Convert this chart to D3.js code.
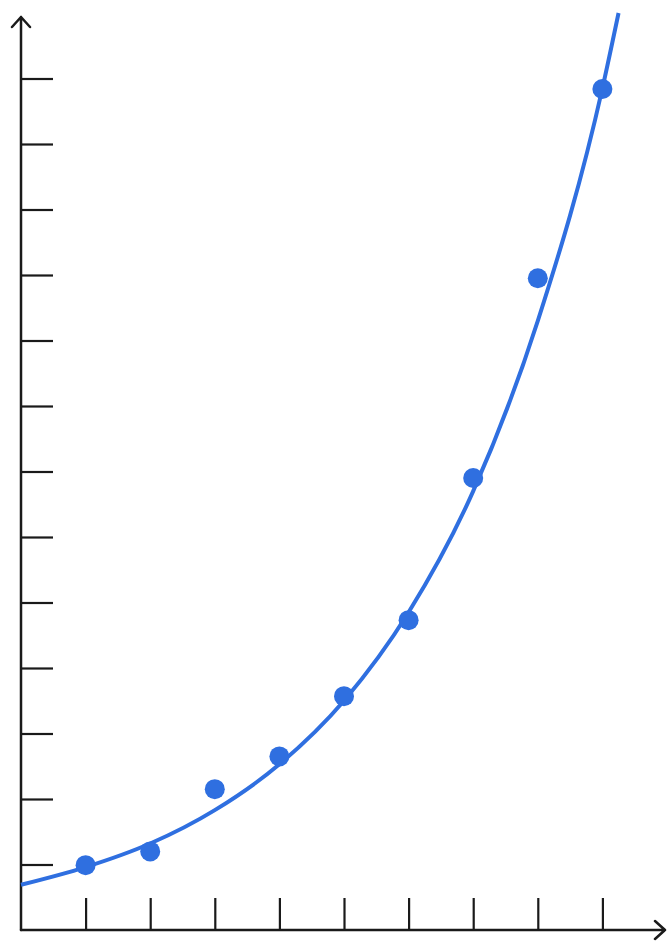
<!DOCTYPE html>
<html>
<head>
<meta charset="utf-8">
<script src="https://cdn.jsdelivr.net/npm/d3@7"></script>
<style>
  html, body { margin: 0; padding: 0; background: #fff; }
  svg { display: block; }
</style>
</head>
<body>
<svg id="chart" width="668" height="941"></svg>
<script>
// observed points
var xs = [1, 2, 3, 4, 5, 6, 7, 8, 9];
var ys = [0.99, 1.2, 2.15, 2.65, 3.57, 4.73, 6.9, 9.95, 12.84];

var curveX = [0, 1, 2, 3, 4, 5, 6, 7, 8, 9, 9.25];
var curveY = [0.69, 0.96, 1.32, 1.83, 2.53, 3.5, 4.85, 6.7, 9.3, 12.85, 14.0];

var xTicks = [1, 2, 3, 4, 5, 6, 7, 8, 9];
var yTicks = [1, 2, 3, 4, 5, 6, 7, 8, 9, 10, 11, 12, 13];

var blue = "#2f6fe0";
var ink = "#1a1a1a";

var svg = d3.select("#chart");

var x = d3.scaleLinear().domain([0, 10]).range([21, 667]);
var y = d3.scaleLinear().domain([0, 14]).range([930, 13]);

// ticks
svg.append("g")
  .attr("transform", "translate(0," + y(0) + ")")
  .call(d3.axisBottom(x).tickValues(xTicks).tickSize(-32).tickSizeOuter(0).tickFormat(""))
  .call(function(g){ g.select(".domain").remove(); })
  .selectAll("line").attr("stroke", ink).attr("stroke-width", 2.2);

svg.append("g")
  .attr("transform", "translate(" + x(0) + ",0)")
  .call(d3.axisLeft(y).tickValues(yTicks).tickSize(-32).tickSizeOuter(0).tickFormat(""))
  .call(function(g){ g.select(".domain").remove(); })
  .selectAll("line").attr("stroke", ink).attr("stroke-width", 2.2);

// axis lines with open arrowheads
var x0 = x(0), y0 = y(0);
svg.append("path")
  .attr("d", "M" + x0 + "," + y0 + "V17 M" + (x0 - 9) + ",27 L" + x0 + ",17 L" + (x0 + 9) + ",27")
  .attr("fill", "none").attr("stroke", ink).attr("stroke-width", 2.5)
  .attr("stroke-linejoin", "round").attr("stroke-linecap", "round");
svg.append("path")
  .attr("d", "M" + x0 + "," + y0 + "H665 M655," + (y0 - 9) + " L665," + y0 + " L655," + (y0 + 9))
  .attr("fill", "none").attr("stroke", ink).attr("stroke-width", 2.5)
  .attr("stroke-linejoin", "round").attr("stroke-linecap", "round");

// trend curve
var line = d3.line()
  .x(function(d){ return x(d[0]); })
  .y(function(d){ return y(d[1]); })
  .curve(d3.curveMonotoneX);

svg.append("path")
  .datum(d3.zip(curveX, curveY))
  .attr("d", line)
  .attr("fill", "none")
  .attr("stroke", blue)
  .attr("stroke-width", 4);

// points
svg.selectAll("circle.pt")
  .data(d3.zip(xs, ys))
  .enter().append("circle")
  .attr("class", "pt")
  .attr("cx", function(d){ return x(d[0]); })
  .attr("cy", function(d){ return y(d[1]); })
  .attr("r", 10)
  .attr("fill", blue);
</script>
</body>
</html>
